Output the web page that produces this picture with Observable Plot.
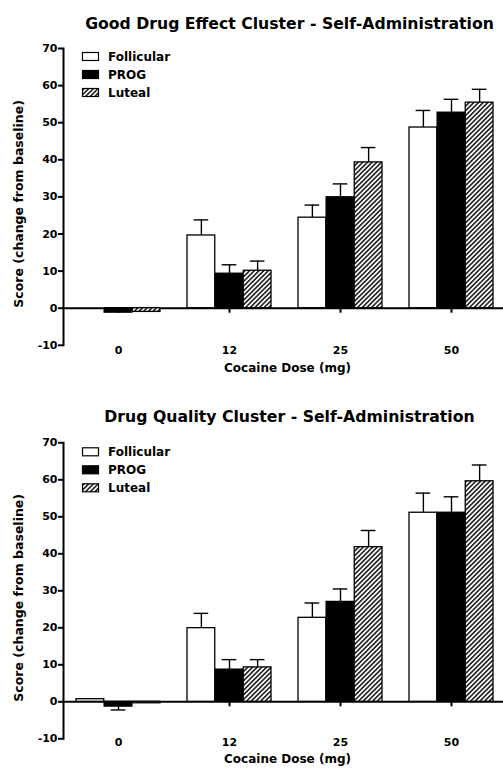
<!DOCTYPE html>
<html><head><meta charset="utf-8">
<script src="https://cdn.jsdelivr.net/npm/d3@7"></script>
<script src="https://cdn.jsdelivr.net/npm/@observablehq/plot@0.6"></script>
<style>
body{margin:0;background:#fff;}
#wrap{width:503px;}
#wrap svg{display:block;}
</style></head><body><div id="wrap"></div>
<script>
// ---- data ----
const doses = ["0", "12", "25", "50"];
const phases = ["Follicular", "PROG", "Luteal"];
const yTicks = [-10, 0, 10, 20, 30, 40, 50, 60, 70];
const yLabel = "Score (change from baseline)";
const xLabel = "Cocaine Dose (mg)";

const goodTitle = "Good Drug Effect Cluster - Self-Administration";
const goodFollicular    = [0,    19.6, 24.4, 48.7];
const goodFollicularErr = [null, 23.8, 27.8, 53.3];
const goodProg          = [-1.2, 9.3,  29.9, 52.7];
const goodProgErr       = [null, 11.7, 33.5, 56.3];
const goodLuteal        = [-1.0, 10.1, 39.3, 55.4];
const goodLutealErr     = [null, 12.7, 43.3, 59.0];

const qualTitle = "Drug Quality Cluster - Self-Administration";
const qualFollicular    = [0.7,  19.9, 22.7, 51.1];
const qualFollicularErr = [null, 23.9, 26.7, 56.4];
const qualProg          = [-1.3, 8.7,  27.0, 51.1];
const qualProgErr       = [-2.2, 11.4, 30.5, 55.4];
const qualLuteal        = [-0.4, 9.3,  41.8, 59.6];
const qualLutealErr     = [null, 11.4, 46.3, 64.0];

// ---- chart builder ----
function makeChart(cfg) {
  const {id, title, series, errs, height, marginTop, marginBottom, tickPadding, xLabelDy, titleDy, legendTop} = cfg;
  const rows = [];
  phases.forEach((p, k) => doses.forEach((d, j) =>
    rows.push({dose: d, phase: p, k, value: series[k][j], err: errs[k][j]})));

  const x0 = 63, x1 = 507, pi = 0.24, po = 0.12;
  const step = (x1 - x0) / (doses.length - pi + 2 * po);
  const bw = step * (1 - pi), third = bw / 3, cap = 7.5;
  const fills = ["white", "black", `url(#${id}-hatch)`];

  const marks = [];
  marks.push(Plot.ruleY([0], {stroke: "black", strokeWidth: 2}));
  marks.push(Plot.ruleX(doses, {x: d => d, y1: 0, y2: 0, insetBottom: -5, stroke: "black", strokeWidth: 2}));
  phases.forEach((p, k) => {
    const dat = rows.filter(r => r.k === k);
    const withErr = dat.filter(r => r.err != null);
    const dx = (k - 1) * third;
    marks.push(Plot.ruleX(withErr, {x: "dose", y1: "value", y2: "err", dx, stroke: "black", strokeWidth: 1.4}));
    marks.push(Plot.tickY(withErr, {x: "dose", y: "err", dx, insetLeft: bw / 2 - cap, insetRight: bw / 2 - cap, stroke: "black", strokeWidth: 1.4}));
    marks.push(Plot.barY(dat, {x: "dose", y: "value", insetLeft: k * third, insetRight: (2 - k) * third,
      fill: fills[k], stroke: "black", strokeWidth: 1.3}));
  });
  marks.push(Plot.frame({anchor: "left", stroke: "black", strokeWidth: 2}));
  marks.push(Plot.axisY({ticks: yTicks, tickSize: 5, tickPadding: 1, strokeWidth: 2, label: null, tickFormat: d => `${d}`}));
  marks.push(Plot.axisX({tickSize: 0, tickPadding, label: null}));
  marks.push(Plot.text([title], {text: d => d, frameAnchor: "top", dy: titleDy, dx: 6, fontSize: 15.7}));
  marks.push(Plot.text([yLabel], {text: d => d, frameAnchor: "left", textAnchor: "middle", rotate: -90, dx: -45, dy: 7, fontSize: 12.5}));
  marks.push(Plot.text([xLabel], {text: d => d, frameAnchor: "bottom", dy: xLabelDy, dx: 4, fontSize: 12}));

  const svg = Plot.plot({
    width: 503, height, marginTop, marginBottom, marginLeft: 63, marginRight: 0,
    style: {fontFamily: "DejaVu Sans", fontWeight: "bold", fontSize: "11px", color: "black", background: "white"},
    x: {domain: doses, range: [x0, x1], paddingInner: pi, paddingOuter: po},
    y: {domain: [-10, 70]},
    marks
  });

  const s = d3.select(svg);
  const defs = s.insert("defs", ":first-child");
  const pat = defs.append("pattern").attr("id", `${id}-hatch`).attr("patternUnits", "userSpaceOnUse")
    .attr("width", 3.3).attr("height", 3.3).attr("patternTransform", "rotate(45)");
  pat.append("rect").attr("width", 3.3).attr("height", 3.3).attr("fill", "white");
  pat.append("line").attr("x1", 1.65).attr("y1", -1).attr("x2", 1.65).attr("y2", 4.3)
    .attr("stroke", "black").attr("stroke-width", 1.4);

  const lg = s.append("g").attr("transform", `translate(82.5, ${marginTop + legendTop})`);
  phases.forEach((p, k) => {
    const g = lg.append("g").attr("transform", `translate(0, ${k * 18})`);
    g.append("rect").attr("x", 0).attr("y", -4).attr("width", 16).attr("height", 8)
      .attr("fill", fills[k]).attr("stroke", "black").attr("stroke-width", 1.2);
    g.append("text").attr("x", 25.5).attr("y", 0).attr("dy", "0.36em").attr("text-anchor", "start")
      .attr("font-size", 12).attr("fill", "black").text(p);
  });
  return svg;
}

const wrap = document.getElementById("wrap");
wrap.append(makeChart({
  id: "good", title: goodTitle,
  series: [goodFollicular, goodProg, goodLuteal],
  errs: [goodFollicularErr, goodProgErr, goodLutealErr],
  height: 390, marginTop: 48, marginBottom: 45.2, tickPadding: 1.2, xLabelDy: 27, titleDy: -30.3, legendTop: 8.5
}));
wrap.append(makeChart({
  id: "qual", title: qualTitle,
  series: [qualFollicular, qualProg, qualLuteal],
  errs: [qualFollicularErr, qualProgErr, qualLutealErr],
  height: 383, marginTop: 52.3, marginBottom: 34.7, tickPadding: -0.5, xLabelDy: 24, titleDy: -32.3, legendTop: 9.5
}));
</script>
</body></html>
